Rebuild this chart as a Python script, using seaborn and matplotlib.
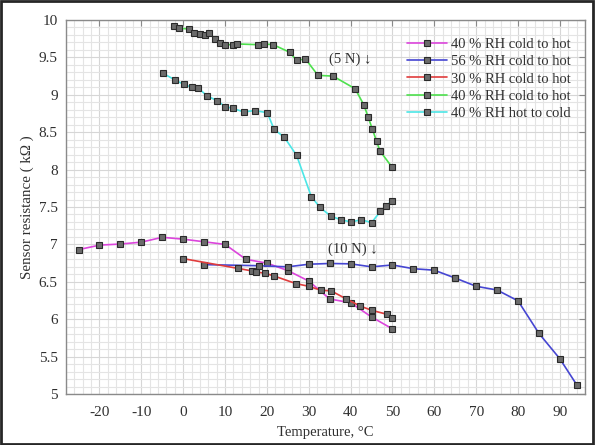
import numpy as np
import pandas as pd
import seaborn as sns
import matplotlib
matplotlib.use("Agg")
import matplotlib.pyplot as plt
from matplotlib.ticker import MultipleLocator, FuncFormatter
from matplotlib.patches import Rectangle

# ---- measured data: temperature (degC) vs sensor resistance (kOhm) ----
t_m40 = [-25, -20, -15, -10, -5, 0, 5, 10, 15, 20, 25, 30, 35, 40, 45, 50]
r_m40 = [6.93, 6.99, 7.005, 7.03, 7.095, 7.07, 7.035, 7.0, 6.80, 6.75,
         6.65, 6.51, 6.27, 6.22, 6.03, 5.87]

t_b56 = [5, 18, 25, 30, 35, 40, 45, 50, 55, 60, 65, 70, 75, 80, 85, 90, 94]
r_b56 = [6.73, 6.715, 6.70, 6.735, 6.745, 6.74, 6.70, 6.725, 6.675, 6.655,
         6.55, 6.44, 6.39, 6.245, 5.81, 5.47, 5.125]

t_r30 = [0, 13, 16.5, 17.5, 19.5, 21.6, 27, 30, 33, 35.3, 39, 42.3, 45, 48.7, 50]
r_r30 = [6.81, 6.68, 6.645, 6.63, 6.615, 6.58, 6.475, 6.44, 6.385, 6.38,
         6.27, 6.175, 6.12, 6.065, 6.015]

t_g40 = [-2.1, -0.9, 1.3, 2.5, 3.9, 5.1, 6.2, 7.6, 8.7, 9.9, 11.8, 12.9, 17.9,
         19.2, 21.5, 25.4, 27.1, 29.2, 32.2, 35.8, 41.1, 43.2, 44.2, 45.2,
         46.2, 47.0, 49.8]
r_g40 = [9.92, 9.89, 9.88, 9.825, 9.81, 9.80, 9.82, 9.75, 9.69, 9.67, 9.67,
         9.68, 9.67, 9.68, 9.67, 9.57, 9.46, 9.48, 9.26, 9.25, 9.08, 8.86,
         8.70, 8.54, 8.38, 8.25, 8.04]

t_c40 = [-4.9, -2.0, 0.1, 2.1, 3.6, 5.6, 8.1, 10.1, 11.8, 14.5, 17.1, 20.1,
         21.7, 24.2, 27.1, 30.6, 32.6, 35.2, 37.6, 40.1, 42.6, 45.0, 47.1,
         48.4, 49.8]
r_c40 = [9.29, 9.20, 9.14, 9.10, 9.09, 8.99, 8.92, 8.84, 8.82, 8.77, 8.79,
         8.76, 8.54, 8.43, 8.19, 7.64, 7.50, 7.38, 7.33, 7.30, 7.33, 7.29,
         7.44, 7.51, 7.58]

labels = ["40 % RH cold to hot", "56 % RH cold to hot", "30 % RH cold to hot",
          "40 % RH cold to hot", "40 % RH hot to cold"]
colors = ["#dc45dc", "#4646d2", "#e03c3c", "#4ee04e", "#4ce6e6"]

series = [(t_m40, r_m40), (t_b56, r_b56), (t_r30, r_r30),
          (t_g40, r_g40), (t_c40, r_c40)]

FS = 10.5

sns.set_theme(style="white")
plt.rcParams["font.family"] = ["Liberation Serif", "DejaVu Serif"]

fig = plt.figure(figsize=(5.95, 4.45), dpi=100)
fig.patch.set_facecolor("white")
ax = fig.add_axes([66 / 595, 1 - 394 / 445, (585 - 66) / 595, (394 - 20) / 445])

for (t, r), lab, col in zip(series, labels, colors):
    df = pd.DataFrame({"T": t, "R": r})
    sns.lineplot(data=df, x="T", y="R", ax=ax, color=col, lw=1.2,
                 marker="s", markersize=3.7, markerfacecolor="#6b6b6b",
                 markeredgecolor="#2a2a2a", markeredgewidth=0.8,
                 sort=False, estimator=None, label=lab, zorder=3)

ax.set_xlim(-28, 96)
ax.set_ylim(5, 10)

ax.xaxis.set_major_locator(MultipleLocator(10))
ax.xaxis.set_minor_locator(MultipleLocator(2))
ax.yaxis.set_major_locator(MultipleLocator(0.5))
ax.yaxis.set_minor_locator(MultipleLocator(0.1))
ax.yaxis.set_major_formatter(FuncFormatter(lambda v, p: f"{v:g}"))
ax.xaxis.set_major_formatter(FuncFormatter(lambda v, p: f"{v:g}"))

ax.grid(which="minor", color="#e4e4e4", lw=0.8, zorder=0)
ax.grid(which="major", color="#d6d6d6", lw=0.8, zorder=0)
ax.set_axisbelow(True)

for s in ax.spines.values():
    s.set_visible(True)
    s.set_color("#8a8a8a")
    s.set_linewidth(1.0)

ax.tick_params(which="major", direction="in", length=4, width=0.8,
               color="#8a8a8a", top=True, right=True, labelsize=FS + 0.5,
               labelcolor="#303030", pad=6)
ax.tick_params(axis="x", which="major", pad=9)
ax.tick_params(which="minor", length=0, top=True, right=True)

ax.set_xlabel("Temperature, \u00b0C", fontsize=FS, color="#303030", labelpad=5)
ax.set_ylabel("Sensor resistance ( k\u03a9 )", fontsize=FS + 0.3, color="#303030",
              labelpad=3)

ax.text(34.9, 9.47, "(5 N) \u2193", fontsize=FS, color="#303030",
        va="center", ha="left", zorder=4)
ax.text(34.6, 6.93, "(10 N) \u2193", fontsize=FS, color="#303030",
        va="center", ha="left", zorder=4)

leg = ax.legend(loc="upper left", bbox_to_anchor=(0.645, 0.968), frameon=False,
                fontsize=FS, handlelength=2.75, handletextpad=0.3,
                labelspacing=0.28, borderaxespad=0, numpoints=1)
for txt in leg.get_texts():
    txt.set_color("#303030")

# outer frame around the figure
fig.patches.append(Rectangle((0.002, 0.003), 0.995, 0.994, transform=fig.transFigure,
                             fill=False, edgecolor="#262626", lw=2.0))

fig.savefig("out.png", dpi=100, facecolor="white")
